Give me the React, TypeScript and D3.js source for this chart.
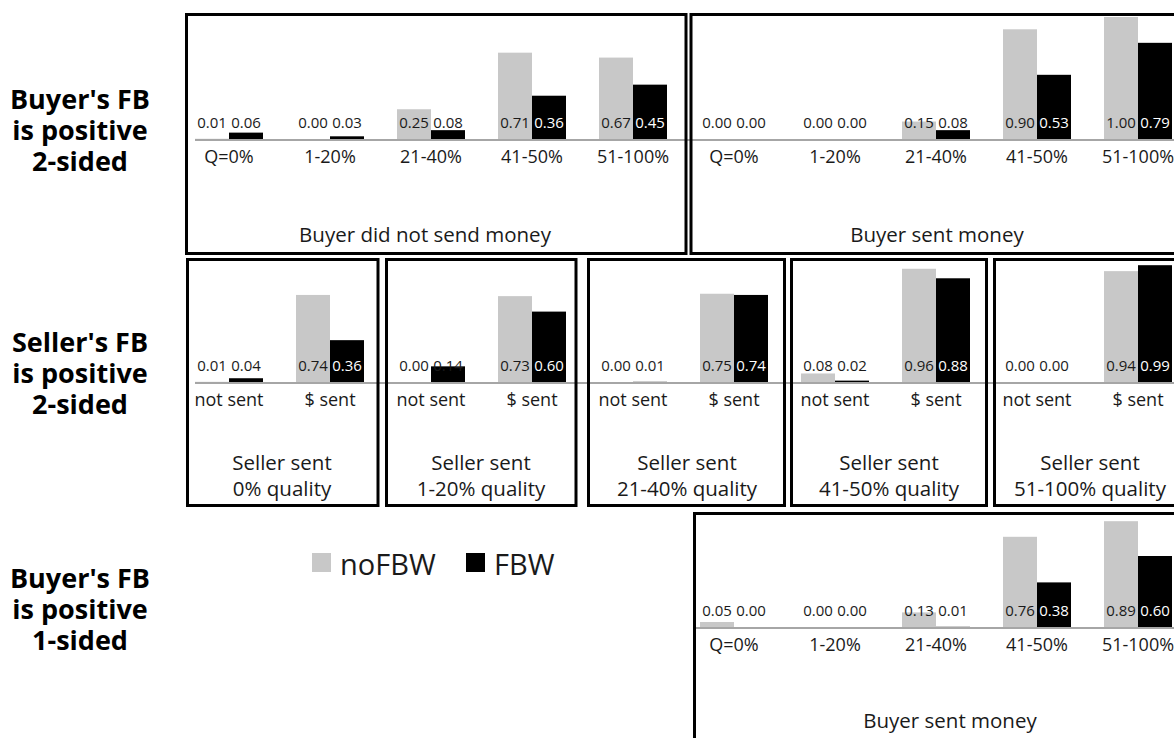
import React from "react";
import * as d3 from "d3";

// ---------- data ----------
const qualityBins = ["Q=0%", "1-20%", "21-40%", "41-50%", "51-100%"];
const moneyCats = ["not sent", "$ sent"];
const seriesNames = ["noFBW", "FBW"];
const sellerQualityLabels = ["0% quality", "1-20% quality", "21-40% quality", "41-50% quality", "51-100% quality"];
const rowLabels = [
  ["Buyer's FB", "is positive", "2-sided"],
  ["Seller's FB", "is positive", "2-sided"],
  ["Buyer's FB", "is positive", "1-sided"],
];

// Row 1: buyer's feedback positive, 2-sided
const buyer2NotSentNoFBW = [0.01, 0.0, 0.25, 0.71, 0.67];
const buyer2NotSentFBW = [0.06, 0.03, 0.08, 0.36, 0.45];
const buyer2SentNoFBW = [0.0, 0.0, 0.15, 0.9, 1.0];
const buyer2SentFBW = [0.0, 0.0, 0.08, 0.53, 0.79];

// Row 2: seller's feedback positive, 2-sided ([not sent, $ sent] per quality)
const seller0NoFBW = [0.01, 0.74];
const seller0FBW = [0.04, 0.36];
const seller1NoFBW = [0.0, 0.73];
const seller1FBW = [0.14, 0.6];
const seller2NoFBW = [0.0, 0.75];
const seller2FBW = [0.01, 0.74];
const seller3NoFBW = [0.08, 0.96];
const seller3FBW = [0.02, 0.88];
const seller4NoFBW = [0.0, 0.94];
const seller4FBW = [0.0, 0.99];

// Row 3: buyer's feedback positive, 1-sided
const buyer1SentNoFBW = [0.05, 0.0, 0.13, 0.76, 0.89];
const buyer1SentFBW = [0.0, 0.0, 0.01, 0.38, 0.6];

// ---------- layout ----------
const W = 1174;
const H = 738;
const FONT = "'Open Sans', 'Noto Sans', sans-serif";
const GRAY = "#c8c8c8";
const TXT = "#1a1a1a";

const slot = d3.scaleBand<number>().domain(d3.range(10)).range([178.5, 1188.5]);
const pair = d3.scaleBand<string>().domain(seriesNames).range([-34, 34]);
const slotCenter = (i: number) => (slot(i) as number) + slot.bandwidth() / 2;

const rows = [
  { y: d3.scaleLinear().domain([0, 1]).range([140, 17]), axisFrom: 195 },
  { y: d3.scaleLinear().domain([0, 1]).range([383, 264]), axisFrom: 195 },
  { y: d3.scaleLinear().domain([0, 1]).range([628, 508]), axisFrom: 694 },
];

type Panel = {
  row: number;
  start: number;
  cats: string[];
  noFBW: number[];
  fbw: number[];
  title: string[];
  box: [number, number, number, number];
  titleX: number;
  titleY: number;
};

const panels: Panel[] = [
  { row: 0, start: 0, cats: qualityBins, noFBW: buyer2NotSentNoFBW, fbw: buyer2NotSentFBW, title: ["Buyer did not send money"], box: [186.5, 14.5, 686, 253.5], titleX: 425, titleY: 242 },
  { row: 0, start: 5, cats: qualityBins, noFBW: buyer2SentNoFBW, fbw: buyer2SentFBW, title: ["Buyer sent money"], box: [691, 14.5, 1190, 253.5], titleX: 937, titleY: 242 },
  { row: 1, start: 0, cats: moneyCats, noFBW: seller0NoFBW, fbw: seller0FBW, title: ["Seller sent", sellerQualityLabels[0]], box: [187.5, 259.5, 378, 505.5], titleX: 282, titleY: 470 },
  { row: 1, start: 2, cats: moneyCats, noFBW: seller1NoFBW, fbw: seller1FBW, title: ["Seller sent", sellerQualityLabels[1]], box: [386.5, 259.5, 576, 505.5], titleX: 481, titleY: 470 },
  { row: 1, start: 4, cats: moneyCats, noFBW: seller2NoFBW, fbw: seller2FBW, title: ["Seller sent", sellerQualityLabels[2]], box: [588.5, 259.5, 784.5, 505.5], titleX: 687, titleY: 470 },
  { row: 1, start: 6, cats: moneyCats, noFBW: seller3NoFBW, fbw: seller3FBW, title: ["Seller sent", sellerQualityLabels[3]], box: [791.5, 259.5, 986.5, 505.5], titleX: 889, titleY: 470 },
  { row: 1, start: 8, cats: moneyCats, noFBW: seller4NoFBW, fbw: seller4FBW, title: ["Seller sent", sellerQualityLabels[4]], box: [994.5, 259.5, 1190, 505.5], titleX: 1090, titleY: 470 },
  { row: 2, start: 5, cats: qualityBins, noFBW: buyer1SentNoFBW, fbw: buyer1SentFBW, title: ["Buyer sent money"], box: [694.5, 513.5, 1190, 760], titleX: 950, titleY: 728 },
];

const fmt = d3.format(".2f");

const rowLabelY = [109, 352, 588];

export default function App() {
  return (
    <svg width={W} height={H} style={{ position: "absolute", left: 0, top: 0, background: "#fff" }}>
      <rect x={0} y={0} width={W} height={H} fill="#fff" />
      {/* row labels */}
      {rowLabels.map((lines, r) => (
        <text key={"rl" + r} x={80} y={rowLabelY[r]} textAnchor="middle" fontFamily={FONT} fontWeight={700} fontSize={27} fill="#000">
          {lines.map((t, k) => (
            <tspan key={k} x={80} dy={k === 0 ? 0 : 31}>
              {t}
            </tspan>
          ))}
        </text>
      ))}

      {/* bars */}
      {panels.map((p, pi) => {
        const ys = rows[p.row].y;
        const y0 = ys(0);
        return (
          <g key={"p" + pi}>
            {p.cats.map((c, j) => {
              const cx = slotCenter(p.start + j);
              const vals = [p.noFBW[j], p.fbw[j]];
              return (
                <g key={c}>
                  {seriesNames.map((s, k) => (
                    <rect
                      key={s}
                      x={cx + (pair(s) as number)}
                      y={ys(vals[k])}
                      width={pair.bandwidth()}
                      height={y0 - ys(vals[k])}
                      fill={k === 0 ? GRAY : "#000"}
                    />
                  ))}
                </g>
              );
            })}
          </g>
        );
      })}

      {/* axis lines */}
      {rows.map((r, i) => (
        <line key={"ax" + i} x1={r.axisFrom} x2={W} y1={r.y(0)} y2={r.y(0)} stroke="#a6a6a6" strokeWidth={2} />
      ))}

      {/* labels */}
      {panels.map((p, pi) => {
        const ys = rows[p.row].y;
        const y0 = ys(0);
        return (
          <g key={"l" + pi}>
            {p.cats.map((c, j) => {
              const cx = slotCenter(p.start + j);
              const vals = [p.noFBW[j], p.fbw[j]];
              return (
                <g key={c}>
                  {seriesNames.map((s, k) => {
                    const h = y0 - ys(vals[k]);
                    const white = k === 1 && h > 24;
                    return (
                      <text
                        key={s}
                        x={cx + (pair(s) as number) + pair.bandwidth() / 2}
                        y={y0 - 12}
                        textAnchor="middle"
                        fontFamily={FONT}
                        fontSize={15}
                        fill={white ? "#fff" : TXT}
                      >
                        {fmt(vals[k])}
                      </text>
                    );
                  })}
                  <text x={cx} y={y0 + 23} textAnchor="middle" fontFamily={FONT} fontSize={18} fill={TXT}>
                    {c}
                  </text>
                </g>
              );
            })}
            <text x={p.titleX} y={p.titleY} textAnchor="middle" fontFamily={FONT} fontSize={20.5} fill={TXT}>
              {p.title.map((t, k) => (
                <tspan key={k} x={p.titleX} dy={k === 0 ? 0 : 26}>
                  {t}
                </tspan>
              ))}
            </text>
            <rect
              x={p.box[0]}
              y={p.box[1]}
              width={p.box[2] - p.box[0]}
              height={p.box[3] - p.box[1]}
              fill="none"
              stroke="#000"
              strokeWidth={3}
            />
          </g>
        );
      })}

      {/* legend */}
      <rect x={312} y={553} width={19} height={19} fill={GRAY} />
      <text x={340} y={575} fontFamily={FONT} fontSize={29} fill={TXT}>
        {seriesNames[0]}
      </text>
      <rect x={466} y={553} width={19} height={19} fill="#000" />
      <text x={494} y={575} fontFamily={FONT} fontSize={29} fill={TXT}>
        {seriesNames[1]}
      </text>
    </svg>
  );
}
